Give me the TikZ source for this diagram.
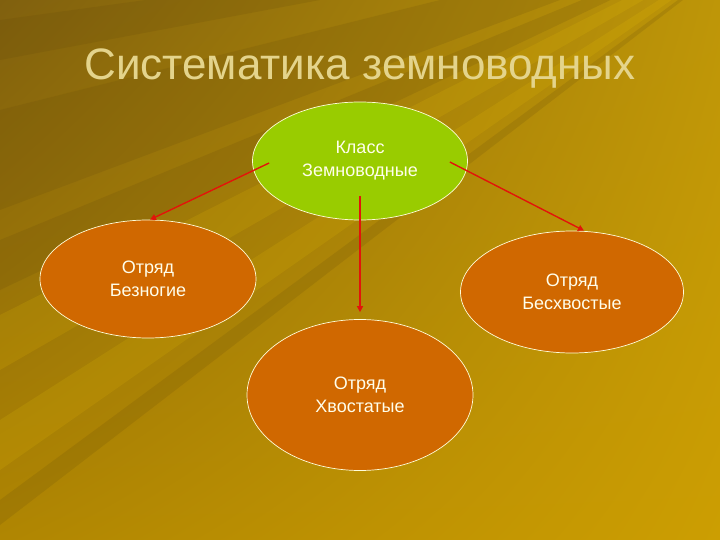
\documentclass[tikz,border=0pt]{standalone}
\usepackage{fontspec}
\setmainfont{Liberation Sans}
\usetikzlibrary{shapes.geometric,arrows.meta,positioning,shadings}

\definecolor{bggold}{RGB}{184,142,4}
\definecolor{bgdark}{RGB}{96,70,10}
\definecolor{bgtopleft}{RGB}{128,96,14}
\definecolor{bgtopright}{RGB}{190,150,8}
\definecolor{bgbottomleft}{RGB}{176,134,2}
\definecolor{bgbottomright}{RGB}{204,158,2}
\definecolor{leafgreen}{RGB}{153,204,0}
\definecolor{orderorange}{RGB}{208,104,0}
\definecolor{titlekhaki}{RGB}{228,212,140}
\definecolor{arrowred}{RGB}{226,20,10}

\tikzset{
  taxon/.style = {draw = white!85!yellow, line width = 0.7pt, shape = ellipse, inner sep = 0pt,
                  align = center, text = white!92!yellow, font = \fontsize{18}{23}\selectfont},
  link/.style  = {draw = arrowred, line width = 1.4pt, -{Triangle[length=6pt,width=6pt]}},
  ray/.style   = {fill = bgdark, opacity = 0.16, draw = none},
  glow/.style  = {fill = yellow!70!orange, opacity = 0.12, draw = none}
}

\begin{document}
\begin{tikzpicture}[x = 1pt, y = -1pt]
\useasboundingbox (0,0) rectangle (720,540);
% background
\begin{scope}
\clip (0,0) rectangle (720,540);
\shade[upper left = bgtopleft, upper right = bgtopright,
       lower left = bgbottomleft, lower right = bgbottomright] (0,0) rectangle (720,540);
\coordinate (F) at (800,-90);
\fill[ray] (F) -- (0,110) -- (0,210) -- cycle;
\fill[ray] (F) -- (0,240) -- (0,290) -- cycle;
\fill[ray] (F) -- (0,20) -- (0,60) -- cycle;
\fill[ray] (F) -- (0,500) -- (0,525) -- cycle;
\fill[ray] (F) -- (200,0) -- (300,0) -- cycle;
\fill[ray] (F) -- (400,0) -- (450,0) -- cycle;
\fill[ray] (F) -- (560,0) -- (580,0) -- cycle;
\fill[glow] (F) -- (0,315) -- (0,370) -- cycle;
\fill[glow] (F) -- (0,420) -- (0,470) -- cycle;
\fill[glow] (F) -- (720,260) -- (720,400) -- cycle;
\end{scope}

% title
\node[text = titlekhaki, font = \fontsize{44}{50}\selectfont] (title) at (360,69) {Систематика земноводных};

% nodes
\node[taxon, fill = leafgreen, minimum width = 215pt, minimum height = 118pt] (klass) at (360,161) {Класс\\Земноводные};
\node[taxon, fill = orderorange, minimum width = 216pt, minimum height = 118pt] (beznogie) at (148,279) {Отряд\\Безногие};
\node[taxon, fill = orderorange, minimum width = 223pt, minimum height = 122pt] (beshvostye) at (572,292) {Отряд\\Бесхвостые};
\node[taxon, fill = orderorange, minimum width = 226pt, minimum height = 151pt] (hvostatye) at (360,395) {Отряд\\Хвостатые};

% connectors
\coordinate (from-left) at ([xshift = 17pt, yshift = -2pt]klass.west);
\coordinate (from-right) at ([xshift = -18pt, yshift = -1pt]klass.east);
\coordinate (from-down) at ([yshift = 24pt]klass.south);
\draw[link] (from-left) -- ([xshift = 2pt]beznogie.north);
\draw[link] (from-right) -- ([xshift = 12pt]beshvostye.north);
\draw[link] (from-down) -- ([yshift = 7pt]hvostatye.north);
\end{tikzpicture}
\end{document}
